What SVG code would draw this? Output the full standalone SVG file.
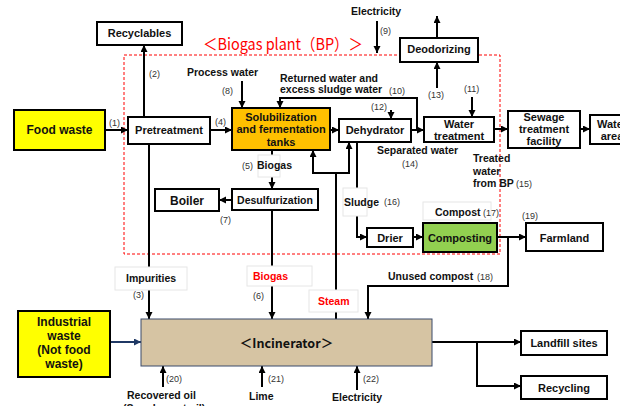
<svg xmlns="http://www.w3.org/2000/svg" width="620" height="406" viewBox="0 0 620 406">
<defs>
<marker id="ah" markerUnits="userSpaceOnUse" markerWidth="8" markerHeight="8" refX="7" refY="3.5" orient="auto"><path d="M0,0 L7,3.5 L0,7 z" fill="#000"/></marker>
<marker id="ahn" markerUnits="userSpaceOnUse" markerWidth="8" markerHeight="8" refX="7" refY="3.5" orient="auto"><path d="M0,0 L7,3.5 L0,7 z" fill="#1F3864"/></marker>
<style>
.box{fill:#fff;stroke:#000;stroke-width:2}
.t{font-family:"Liberation Sans",Arial,sans-serif;font-weight:bold;font-size:11px;fill:#111;text-anchor:middle}
.a{font-family:"Liberation Sans",Arial,sans-serif;font-weight:bold;font-size:10.5px;fill:#111}
.n{font-family:"Liberation Sans",Arial,sans-serif;font-size:9px;fill:#333}
.c{fill:none;stroke:#000;stroke-width:2}
.ar{marker-end:url(#ah)}
.lb{fill:#fff;stroke:#e6e6e6;stroke-width:1}
.red{fill:#FF0000}
</style>
</defs>
<rect width="620" height="406" fill="#fff"/>
<g id="biogas-plant">
<rect x="124" y="55" width="376" height="199" fill="none" stroke="#FF0000" stroke-width="1" stroke-dasharray="3,2"/>
<text x="283" y="50" font-family="'Noto Sans CJK JP',sans-serif" font-size="16" fill="#FF0000" text-anchor="middle" textLength="160" lengthAdjust="spacingAndGlyphs">＜Biogas plant（BP）＞</text>
</g>
<g id="connectors">
<path class="c ar" d="M105,130 H128"/>
<path class="c ar" d="M144,117 V45"/>
<path class="c ar" d="M210,130 H232"/>
<path class="c ar" d="M242,81 V108"/>
<path class="c ar" d="M417,130 V98 H280 V108"/>
<path class="c ar" d="M330,130 H339"/>
<path class="c ar" d="M391,110 V119"/>
<path class="c ar" d="M411,130 H424"/>
<path class="c ar" d="M377,21 V53"/>
<path class="c ar" d="M437,88 V62"/>
<path class="c ar" d="M437,38 V16"/>
<path class="c ar" d="M472,97 V117"/>
<path class="c ar" d="M494,129 H508"/>
<path class="c ar" d="M580,129 H590"/>
<path class="c ar" d="M272,150 V189"/>
<path class="c ar" d="M232,200 H219"/>
<path class="c ar" d="M272,210 V319"/>
<path class="c ar" d="M149,144 V319"/>
<path class="c" d="M336,319 V173 M312,173 H350"/>
<path class="c ar" d="M313,173 V150"/>
<path class="c ar" d="M349,173 V142"/>
<path class="c ar" d="M357,142 V237 H367"/>
<path class="c ar" d="M413,237 H423"/>
<path class="c ar" d="M497,237 H526"/>
<path class="c ar" d="M508,237 V286 H368 V319"/>
<path d="M110,342 H141" fill="none" stroke="#1F3864" stroke-width="2" marker-end="url(#ahn)"/>
<path class="c ar" d="M432,342 H521"/>
<path class="c ar" d="M477,342 V386 H521"/>
<path class="c ar" d="M163,387 V366"/>
<path class="c ar" d="M262,387 V366"/>
<path class="c ar" d="M357,390 V366"/>
<rect class="lb" x="258" y="155" width="22" height="22"/>
<rect class="lb" x="343" y="188" width="24" height="28"/>
<rect class="lb" x="423" y="202" width="68" height="18"/>
<rect class="lb" x="115" y="267" width="72" height="23"/>
<rect class="lb" x="247" y="266" width="65" height="20"/>
<rect class="lb" x="309" y="290" width="49" height="22"/>
<text class="n" x="109" y="126">(1)</text>
<text class="n" x="149" y="77">(2)</text>
<text class="n" x="215" y="125">(4)</text>
<text class="a" x="187" y="76">Process water</text>
<text class="n" x="222" y="94">(8)</text>
<text class="a" x="280" y="82">Returned water and</text>
<text class="a" x="280" y="93">excess sludge water</text>
<text class="n" x="389" y="94">(10)</text>
<text class="n" x="371" y="110">(12)</text>
<text class="a" x="351" y="15">Electricity</text>
<text class="n" x="380" y="34">(9)</text>
<text class="n" x="428" y="98">(13)</text>
<text class="n" x="464" y="92">(11)</text>
<text class="a" x="377" y="154">Separated water</text>
<text class="n" x="402" y="167">(14)</text>
<text class="a" x="473" y="162">Treated</text>
<text class="a" x="473" y="175">water</text>
<text class="a" x="473" y="187">from BP</text>
<text class="n" x="516" y="187">(15)</text>
<text class="n" x="242" y="169">(5)</text>
<text class="a" x="257" y="169">Biogas</text>
<text class="n" x="220" y="223">(7)</text>
<text class="a" x="344" y="206">Sludge</text>
<text class="n" x="384" y="205">(16)</text>
<text class="a" x="435" y="216">Compost</text>
<text class="n" x="483" y="216">(17)</text>
<text class="n" x="522" y="219">(19)</text>
<text class="a" x="388" y="280">Unused compost</text>
<text class="n" x="477" y="280">(18)</text>
<text class="a" x="126" y="282">Impurities</text>
<text class="n" x="133" y="298">(3)</text>
<text class="a red" x="253" y="280">Biogas</text>
<text class="n" x="253" y="299">(6)</text>
<text class="a red" x="318" y="305">Steam</text>
<text class="n" x="166" y="382">(20)</text>
<text class="a" x="127" y="399">Recovered oil</text>
<text class="a" x="123" y="412">(Supplement oil)</text>
<text class="n" x="268" y="382">(21)</text>
<text class="a" x="249" y="400">Lime</text>
<text class="n" x="363" y="382">(22)</text>
<text class="a" x="332" y="401">Electricity</text>
</g>
<g id="recyclables"><rect class="box" x="97" y="22" width="85" height="23"/><text class="t" x="139.5" y="37">Recyclables</text></g>
<g id="food-waste"><rect class="box" x="14" y="110" width="91" height="40" fill="#FFFF00" style="fill:#FFFF00"/><text class="t" x="59.5" y="134" font-size="12" style="font-size:12px">Food waste</text></g>
<g id="pretreatment"><rect class="box" x="128" y="117" width="82" height="27"/><text class="t" x="169" y="134">Pretreatment</text></g>
<g id="solubilization"><rect class="box" x="232" y="108" width="98" height="42" style="fill:#FFC000"/><text class="t" x="281" y="121">Solubilization</text><text class="t" x="281" y="133">and fermentation</text><text class="t" x="281" y="146">tanks</text></g>
<g id="dehydrator"><rect class="box" x="339" y="119" width="72" height="23"/><text class="t" x="375" y="134">Dehydrator</text></g>
<g id="water-treatment"><rect class="box" x="424" y="117" width="70" height="25"/><text class="t" x="459" y="128">Water</text><text class="t" x="459" y="140">treatment</text></g>
<g id="deodorizing"><rect class="box" x="400" y="38" width="78" height="24"/><text class="t" x="439" y="53">Deodorizing</text></g>
<g id="sewage"><rect class="box" x="508" y="111" width="72" height="37"/><text class="t" x="544" y="121">Sewage</text><text class="t" x="544" y="133">treatment</text><text class="t" x="544" y="145">facility</text></g>
<g id="water-area"><rect class="box" x="590" y="115" width="40" height="29"/><text class="t" x="612" y="128">Water</text><text class="t" x="612" y="140">area</text></g>
<g id="boiler"><rect class="box" x="155" y="189" width="64" height="22"/><text class="t" x="187" y="205" style="font-size:12px">Boiler</text></g>
<g id="desulfurization"><rect class="box" x="232" y="189" width="86" height="21"/><text class="t" x="275" y="204" style="font-size:10.5px">Desulfurization</text></g>
<g id="drier"><rect class="box" x="367" y="228" width="46" height="19"/><text class="t" x="390" y="242">Drier</text></g>
<g id="composting"><rect class="box" x="423" y="223" width="74" height="29" style="fill:#92D050"/><text class="t" x="460" y="242">Composting</text></g>
<g id="farmland"><rect class="box" x="526" y="223" width="77" height="28"/><text class="t" x="564.5" y="242">Farmland</text></g>
<g id="industrial-waste"><rect class="box" x="18" y="311" width="92" height="66" style="fill:#FFFF00"/><text class="t" x="64" y="326" style="font-size:12px">Industrial</text><text class="t" x="64" y="340" style="font-size:12px">waste</text><text class="t" x="64" y="354" style="font-size:12px">(Not food</text><text class="t" x="64" y="368" style="font-size:12px">waste)</text></g>
<g id="incinerator"><rect x="141" y="319" width="291" height="47" fill="#D6C4A3" stroke="#3B4A6B" stroke-width="1"/><text x="286.5" y="348" font-family="'Noto Sans CJK JP',sans-serif" font-weight="bold" font-size="12.5" fill="#111" text-anchor="middle">＜Incinerator＞</text></g>
<g id="landfill"><rect class="box" x="521" y="331" width="86" height="24"/><text class="t" x="564" y="347">Landfill sites</text></g>
<g id="recycling"><rect class="box" x="521" y="376" width="86" height="23"/><text class="t" x="564" y="392">Recycling</text></g>
</svg>
